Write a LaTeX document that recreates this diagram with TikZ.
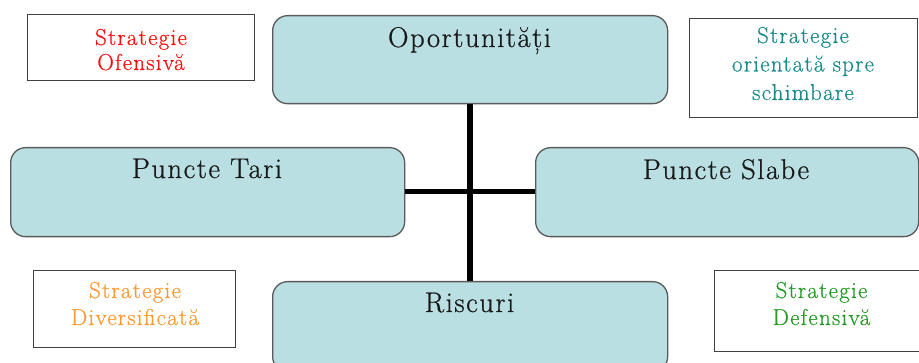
\documentclass[tikz,border=0pt]{standalone}
\usepackage{fontspec}
\newfontfamily\bigfont{Latin Modern Roman}[FakeBold=0.7, LetterSpace=5.5]
\newfontfamily\smallfont{Latin Modern Roman}[FakeBold=0.5, LetterSpace=5.5]
\definecolor{boxfill}{HTML}{B9DFE2}
\definecolor{boxline}{HTML}{5A5A5A}
\definecolor{sred}{HTML}{FF1010}
\definecolor{steal}{HTML}{178A8A}
\definecolor{sorange}{HTML}{FF9A33}
\definecolor{sgreen}{HTML}{259A25}
\tikzset{
  bigbox/.style={draw=boxline, line width=1.3pt, fill=boxfill, rounded corners=15pt, inner sep=0pt, anchor=north west},
  bigtext/.style={font=\bigfont\fontsize{28.5}{30}\selectfont, text=black!90, anchor=base},
  stratbox/.style={draw=black!75, line width=1.2pt, fill=white, inner sep=0pt, anchor=north west},
  strattext/.style={font=\smallfont\fontsize{23}{25}\selectfont, align=center, inner sep=0pt, anchor=base},
  link/.style={line width=5.5pt, black}
}
\begin{document}
\begin{tikzpicture}[x=1pt,y=-1pt]
\clip (0,0) rectangle (919,363);
\fill[white] (0,0) rectangle (919,363);
% strategy boxes (text anchored at the baseline of its last line)
\node[stratbox, minimum width=227pt, minimum height=66pt] (so) at (27,14) {};
\node[strattext, text=sred] (sot) at (141,70) {Strategie\\Ofensivă};
\node[stratbox, minimum width=228pt, minimum height=99pt] (sc) at (689,18) {};
\node[strattext, text=steal, font=\smallfont\fontsize{23}{28.5}\selectfont] (sct) at (803,100) {Strategie\\orientată spre\\schimbare};
\node[stratbox, minimum width=202pt, minimum height=77pt] (sd) at (33,270) {};
\node[strattext, text=sorange, font=\smallfont\fontsize{23}{27}\selectfont] (sdt) at (135,325) {Strategie\\Diversificată};
\node[stratbox, minimum width=220pt, minimum height=81pt] (sf) at (714,270) {};
\node[strattext, text=sgreen, font=\smallfont\fontsize{23}{27}\selectfont] (sft) at (821.5,325) {Strategie\\Defensivă};
% main boxes
\node[bigbox, minimum width=395pt, minimum height=88pt] (op) at (272,15) {};
\node[bigtext] (opt) at (469.5,47) {Oportunități};
\node[bigbox, minimum width=394pt, minimum height=89pt] (pt) at (10,147) {};
\node[bigtext] (ptt) at (207,178) {Puncte Tari};
\node[bigbox, minimum width=383pt, minimum height=89pt] (ps) at (535,147) {};
\node[bigtext] (pst) at (726,179) {Puncte Slabe};
\node[bigbox, minimum width=395pt, minimum height=90pt] (ri) at (272,281) {};
\node[bigtext] (rit) at (469.5,312) {Riscuri};
% connectors
\coordinate (c) at (470,191.5);
\draw[link] (op.south -| c) -- (ri.north -| c);
\draw[link] (pt.east |- c) -- (ps.west |- c);
\end{tikzpicture}
\end{document}
